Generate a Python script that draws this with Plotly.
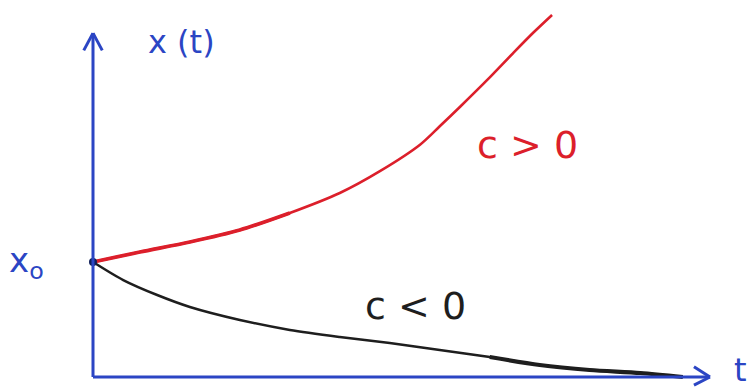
import plotly.graph_objects as go

# Growth (c > 0) and decay (c < 0) of x(t) starting from x0
t_growth = [0.0, 0.76, 1.57, 2.38, 3.19, 4.0, 4.65, 5.30, 5.62, 5.95, 6.39, 6.81, 7.13, 7.44]
x_growth = [1.0, 1.087, 1.174, 1.278, 1.426, 1.60, 1.79, 2.02, 2.18, 2.35, 2.583, 2.817, 2.991, 3.148]

t_decay = [0.0, 0.49, 1.04, 1.57, 2.38, 3.19, 4.0, 4.81, 5.62, 6.43, 7.24, 8.05, 8.87, 9.56]
x_decay = [1.0, 0.843, 0.713, 0.609, 0.496, 0.409, 0.348, 0.296, 0.235, 0.174, 0.104, 0.061, 0.035, 0.0]

x0 = 1.0
t_max = 10.0
x_top = 2.99

BLUE = "#2b45c4"
RED = "#dc1f2b"
BLACK = "#1e1e1e"
FONT = "DejaVu Sans"

fig = go.Figure()

# curves
fig.add_trace(go.Scatter(x=t_growth, y=x_growth, mode="lines",
                         line=dict(color=RED, width=2.6, shape="spline", smoothing=0.8),
                         hoverinfo="skip"))
fig.add_trace(go.Scatter(x=t_growth[:5], y=x_growth[:5], mode="lines",
                         line=dict(color=RED, width=3.8, shape="spline", smoothing=0.8),
                         hoverinfo="skip"))
fig.add_trace(go.Scatter(x=t_decay, y=x_decay, mode="lines",
                         line=dict(color=BLACK, width=2.5, shape="spline", smoothing=0.8),
                         hoverinfo="skip"))
fig.add_trace(go.Scatter(x=t_decay[-5:], y=x_decay[-5:], mode="lines",
                         line=dict(color=BLACK, width=4.2, shape="spline", smoothing=0.8),
                         hoverinfo="skip"))
fig.add_trace(go.Scatter(x=[0], y=[x0], mode="markers",
                         marker=dict(color="#10205a", size=8), hoverinfo="skip"))

# hand-drawn axes with open arrowheads
axis_line = dict(color=BLUE, width=3)
shapes = [
    dict(type="line", x0=0, y0=0, x1=t_max, y1=0, line=axis_line),
    dict(type="line", x0=0, y0=0, x1=0, y1=x_top, line=axis_line),
    dict(type="line", x0=t_max - 0.26, y0=0.09, x1=t_max, y1=0, line=axis_line),
    dict(type="line", x0=t_max - 0.26, y0=-0.07, x1=t_max, y1=0, line=axis_line),
    dict(type="line", x0=-0.15, y0=x_top - 0.15, x1=0, y1=x_top, line=axis_line),
    dict(type="line", x0=0.15, y0=x_top - 0.15, x1=0, y1=x_top, line=axis_line),
]
for s in shapes:
    s.update(xref="x", yref="y", layer="above")

annotations = [
    dict(x=1.43, y=2.91, text="x (t)", font=dict(size=32, color=BLUE, family=FONT)),
    dict(x=-1.07, y=1.0, text="x<sub>o</sub>", font=dict(size=34, color=BLUE, family=FONT)),
    dict(x=10.5, y=0.06, text="t", font=dict(size=32, color=BLUE, family=FONT)),
    dict(x=7.05, y=2.02, text="c > 0", font=dict(size=38, color=RED, family=FONT)),
    dict(x=5.22, y=0.62, text="c < 0", font=dict(size=38, color=BLACK, family=FONT)),
]
for a in annotations:
    a.update(xref="x", yref="y", showarrow=False)

fig.update_layout(
    width=753, height=390,
    margin=dict(l=0, r=0, t=0, b=0),
    paper_bgcolor="white", plot_bgcolor="white",
    showlegend=False,
    shapes=shapes,
    annotations=annotations,
    xaxis=dict(range=[-93 / 61.7, 660 / 61.7], visible=False, fixedrange=True),
    yaxis=dict(range=[-13 / 115, 377 / 115], visible=False, fixedrange=True),
)

fig.write_html("out.html")
